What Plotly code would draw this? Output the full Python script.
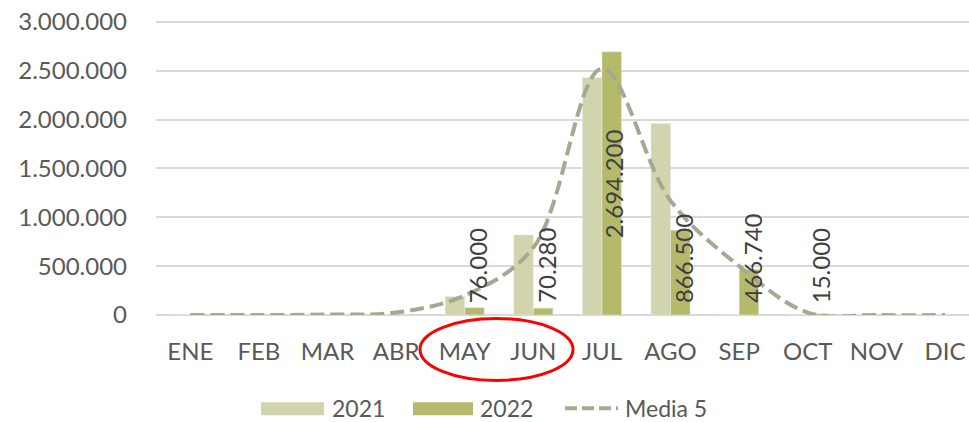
import plotly.graph_objects as go

months = ["ENE", "FEB", "MAR", "ABR", "MAY", "JUN", "JUL", "AGO", "SEP", "OCT", "NOV", "DIC"]
v2021 = [0, 0, 0, 0, 190000, 820000, 2430000, 1960000, 0, 0, 0, 0]
v2022 = [None, None, None, None, 76000, 70280, 2694200, 866500, 466740, 15000, None, None]
media5 = [0, 0, 5000, 25000, 200000, 690000, 2520000, 1170000, 500000, 25000, 0, 0]
y_ticks = [0, 500000, 1000000, 1500000, 2000000, 2500000, 3000000]

W, H = 969, 422
Y_MAX = 3020000
# plot area in page pixels
L, R, T, B = 156, 969, 20, 315.5
ML, MR, MT, MB = L, 0, T, H - B
PW, PH = R - L, B - T

def px(x):
    return (x - L) / PW

def py(y):
    return (B - y) / PH

C21 = "#D1D4AD"
C22 = "#B5BA6A"
CL = "#A6A891"
FONT = "Lato"
TXT = "#595959"

fig = go.Figure()
fig.add_trace(go.Bar(x=months, y=v2021, name="2021", marker_color=C21, showlegend=False))
fig.add_trace(go.Bar(x=months, y=v2022, name="2022", marker_color=C22, showlegend=False))
fig.add_trace(go.Scatter(x=months, y=media5, name="Media 5", mode="lines",
                         line=dict(color=CL, width=4, dash="14px,6px", shape="spline", smoothing=1),
                         showlegend=False))

def fmt(v):
    return f"{v:,}".replace(",", ".")

for m, v in zip(months, v2022):
    if v is None:
        continue
    if v > 1500000:
        fig.add_annotation(x=m, y=v / 2, xshift=11, yanchor="middle", text=fmt(v),
                           textangle=-90, showarrow=False, font=dict(family=FONT, size=24, color="#404040"))
    else:
        fig.add_annotation(x=m, y=0, xshift=13, yshift=10, yanchor="bottom", text=fmt(v),
                           textangle=-90, showarrow=False, font=dict(family=FONT, size=24, color="#404040"))

# custom legend
ly = 409
legend_items = [
    ("rect", C21, 261, 324, "2021", 330),
    ("rect", C22, 413, 473, "2022", 478),
    ("line", CL, 565, 618, "Media 5", 623),
]
for kind, col, x0, x1, label, tx in legend_items:
    if kind == "rect":
        fig.add_shape(type="rect", xref="paper", yref="paper", x0=px(x0), x1=px(x1),
                      y0=py(ly + 7), y1=py(ly - 6), fillcolor=col, line=dict(width=0))
    else:
        fig.add_shape(type="line", xref="paper", yref="paper", x0=px(x0), x1=px(x1),
                      y0=py(ly), y1=py(ly), line=dict(color=col, width=4, dash="12px,5px"))
    fig.add_annotation(xref="paper", yref="paper", x=px(tx), y=py(ly), xanchor="left",
                       yanchor="middle", text=label, showarrow=False,
                       font=dict(family=FONT, size=23, color=TXT))

# red ellipse highlight
fig.add_shape(type="circle", xref="paper", yref="paper", x0=px(420), x1=px(573),
              y0=py(381), y1=py(319), line=dict(color="#FF0000", width=3))

fig.update_layout(
    width=W, height=H,
    margin=dict(l=ML, r=MR, t=MT, b=MB, pad=0),
    paper_bgcolor="white", plot_bgcolor="white",
    barmode="group", bargap=0.43, bargroupgap=0,
    separators=",.",
    showlegend=False,
    font=dict(family=FONT, color=TXT),
)
fig.update_xaxes(range=[-0.5, 11 + (969 - 945) / 68.6], showgrid=False, showline=False,
                 zeroline=False, ticks="",
                 tickfont=dict(family=FONT, size=24, color=TXT), ticklabelstandoff=20)
fig.update_yaxes(range=[0, Y_MAX], tickvals=y_ticks, ticktext=[fmt(v) for v in y_ticks],
                 showgrid=True, gridcolor="#D9D9D9", gridwidth=1.5, zeroline=True,
                 zerolinecolor="#D9D9D9", zerolinewidth=1.5, showline=False, ticks="",
                 ticklabeloverflow="allow",
                 tickfont=dict(family=FONT, size=24, color=TXT), ticklabelstandoff=28)

fig.write_html("out.html", config={"displayModeBar": False},
               post_script="document.body.style.margin='0';document.body.style.overflow='hidden';")
